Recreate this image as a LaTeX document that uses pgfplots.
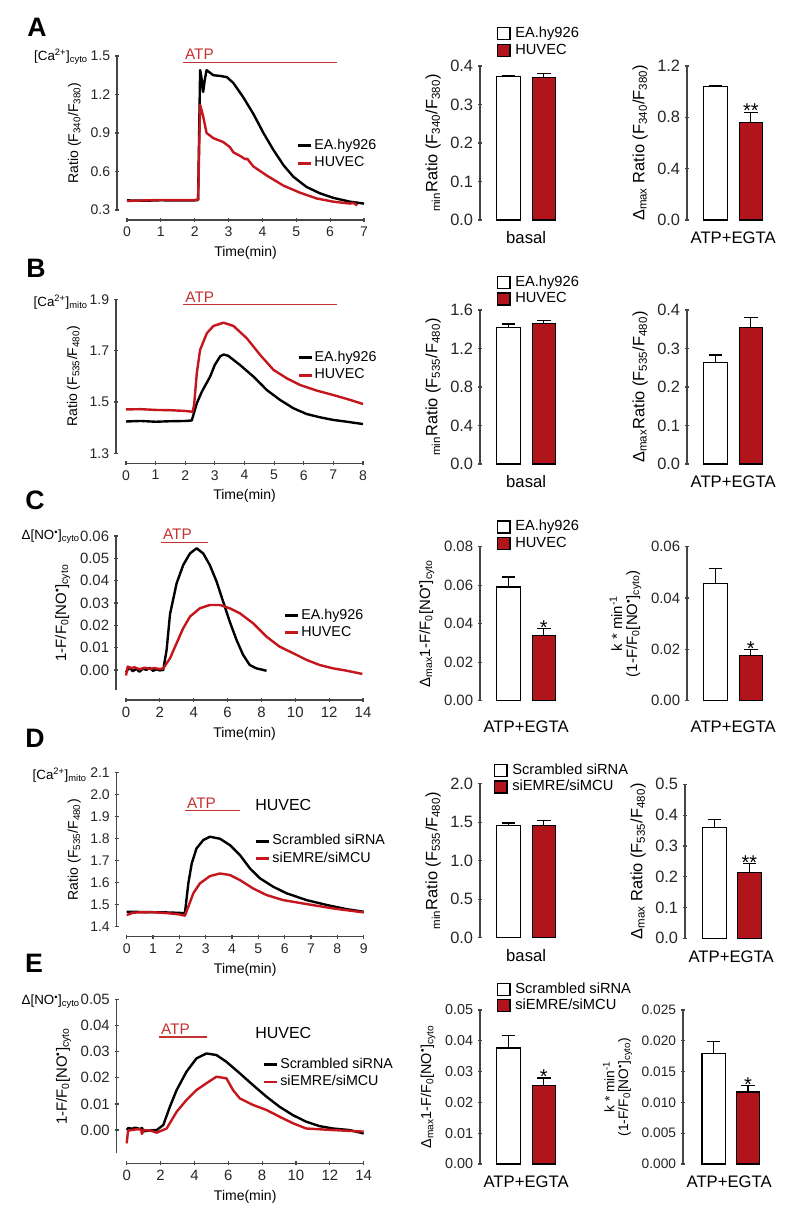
\documentclass[border=0pt]{standalone}
\usepackage{pgfplots}
\pgfplotsset{compat=1.18}
\usepackage{fontspec}
\setmainfont{Liberation Sans}
\definecolor{myred}{RGB}{178,20,28}
\definecolor{linered}{RGB}{196,22,28}
\definecolor{atpred}{RGB}{196,50,50}
\definecolor{axgray}{RGB}{70,70,70}
\pgfplotsset{
 noarrows/.style={axis line style={-, line width=0.9pt, draw=axgray},
   every outer x axis line/.append style={-}, every outer y axis line/.append style={-},
   every inner x axis line/.append style={-}, every inner y axis line/.append style={-}},
 tfs/.style={tick label style={font=\fontsize{#1}{#1}\selectfont}, ylabel style={font=\fontsize{#1}{#1}\selectfont}},
 base/.style={scale only axis, clip=false,
   every tick/.style={line width=0.9pt, draw=axgray},
   tick align=outside, major tick length=3pt,
   scaled y ticks=false, scaled x ticks=false,
   tick label style={font=\fontsize{10.5}{12}\selectfont, text=black!85, /pgf/number format/assume math mode=true},
   yticklabel style={/pgf/number format/fixed, /pgf/number format/fixed zerofill, /pgf/number format/precision=1},
   label style={font=\fontsize{10.5}{12}\selectfont},
 },
 trace/.style={base, width=177.75pt, height=115.5pt, axis lines=left, noarrows,
   axis x line shift=7.5pt, axis y line shift=7.5pt,
   xlabel={Time(min)},
   legend cell align=left,
   legend style={draw=none, fill=none, inner sep=0pt, outer sep=0pt, anchor=west, row sep=0pt,
     nodes={inner sep=1.2pt, text height=8pt, text depth=2.5pt, font=\fontsize{10.7}{12}\selectfont}},
   legend image code/.code={\draw[##1, line width=2.2pt] (0pt,0pt) -- (9.75pt,0pt);},
 },
 barax/.style={base, width=69.2pt, height=115.5pt, axis y line=left, axis x line*=bottom, noarrows,
   x axis line style={draw=none}, xtick=\empty, xmin=-0.8, xmax=1.8, ymin=0,
   xlabel style={at={(rel axis cs:0.5,0)}, anchor=center, yshift=-13.5pt, font=\fontsize{12.5}{14}\selectfont},
   legend cell align=left,
   legend style={draw=none, fill=none, inner sep=0pt, outer sep=0pt, anchor=west, row sep=0pt,
     /tikz/every odd column/.append style={column sep=2.5pt},
     nodes={inner sep=1.1pt, text height=8pt, text depth=2.2pt, font=\fontsize{11}{12}\selectfont}},
   legend image code/.code={\draw[##1, line width=0.9pt] (0pt,-4.5pt) rectangle (9.25pt,4.5pt);},
 },
 wbar/.style={ybar, bar width=17.6pt, bar shift=0pt, fill=white, draw=black, line width=0.9pt,
   error bars/.cd, y dir=plus, y explicit, error mark=-, error bar style={line width=0.9pt, draw=black},
   error mark options={rotate=90, line width=0.9pt, mark size=5pt, draw=black}},
 rbar/.style={ybar, bar width=17.6pt, bar shift=0pt, fill=myred, draw=black, line width=0.9pt,
   error bars/.cd, y dir=plus, y explicit, error mark=-, error bar style={line width=0.9pt, draw=black},
   error mark options={rotate=90, line width=0.9pt, mark size=5pt, draw=black}},
 blk/.style={black, line width=1.8pt, line join=round},
 rdl/.style={linered, line width=1.8pt, line join=round},
}
\tikzset{atp/.style={atpred, line width=0.8pt},
  atptext/.style={anchor=south west, text=atpred, inner sep=1.5pt, font=\fontsize{11.5}{13}\selectfont},
  star/.style={anchor=base, yshift=-4pt, inner sep=0pt, font=\fontsize{15}{16}\selectfont},
  letter/.style={font=\fontsize{20}{24}\selectfont\bfseries},
  side/.style={anchor=east, inner sep=0pt, font=\fontsize{10}{12}\selectfont}}
\begin{document}
\fontsize{10.5}{12.6}\selectfont
\begin{tikzpicture}[x=0.75pt,y=-0.75pt]
\path[use as bounding box] (0,0) rectangle (800,1217);
% ================= Row A =================
\begin{axis}[trace, at={(95.25pt,-157.5pt)}, anchor=south west,
  xmin=0, xmax=7, ymin=0.3, ymax=1.5, xtick={0,1,...,7}, ytick={0.3,0.6,0.9,1.2,1.5},
  ylabel={Ratio (F\textsubscript{340}/F\textsubscript{380})},
  legend style={at={(0.717,0.36)}}]
\addplot[blk] table {
0 0.375
0.5 0.372
1.0 0.376
1.5 0.374
2.0 0.375
2.1 0.378
2.16 1.39
2.2 1.33
2.25 1.22
2.3 1.32
2.35 1.39
2.45 1.37
2.55 1.35
2.75 1.345
2.95 1.335
3.14 1.29
3.43 1.18
3.73 1.05
4.03 0.90
4.32 0.77
4.62 0.65
4.91 0.56
5.3 0.48
5.7 0.43
6.09 0.395
6.58 0.365
7.0 0.35
};
\addplot[rdl] table {
0 0.37
0.5 0.375
1.0 0.378
1.5 0.377
2.0 0.378
2.1 0.38
2.16 1.12
2.25 1.03
2.35 0.90
2.55 0.86
2.84 0.83
3.04 0.79
3.14 0.75
3.35 0.72
3.5 0.695
3.55 0.70
3.73 0.64
4.12 0.57
4.62 0.49
5.11 0.435
5.6 0.39
6.09 0.365
6.58 0.35
6.7 0.355
6.8 0.335
};
\legend{EA.hy926, HUVEC}
\draw[atp] (axis cs:1.65,1.453) -- (axis cs:6.2,1.453);
\node[atptext] at (axis cs:1.65,1.453) {ATP};
\end{axis}
\begin{axis}[barax, tfs=12.3, at={(360pt,-165pt)}, anchor=south west, ymax=0.4, ytick={0,0.1,0.2,0.3,0.4},
  xlabel={basal}, ylabel={\textsubscript{min}Ratio (F\textsubscript{340}/F\textsubscript{380})},
  legend style={at={(0.184,1.156)}}]
\addplot[wbar] coordinates {(0,0.372) +- (0,0.004)};
\addplot[rbar] coordinates {(1,0.370) +- (0,0.011)};
\legend{EA.hy926, HUVEC}
\end{axis}
\begin{axis}[barax, tfs=12.3, at={(515.25pt,-165pt)}, anchor=south west, ymax=1.2, ytick={0,0.4,0.8,1.2},
  xlabel={ATP+EGTA}, ylabel={Δ\textsubscript{max} Ratio (F\textsubscript{340}/F\textsubscript{380})}]
\addplot[wbar] coordinates {(0,1.039) +- (0,0.006)};
\addplot[rbar] coordinates {(1,0.761) +- (0,0.078)};
\node[star] at (axis cs:1,0.839) {**};
\end{axis}
% ================= Row B =================
\begin{axis}[trace, at={(94.5pt,-339.98pt)}, anchor=south west,
  xmin=0, xmax=8, ymin=1.3, ymax=1.9, xtick={0,1,...,8}, ytick={1.3,1.5,1.7,1.9},
  ylabel={Ratio (F\textsubscript{535}/F\textsubscript{480})},
  legend style={at={(0.722,0.564)}}]
\addplot[blk] table {
0 1.424
0.5 1.426
1.0 1.423
1.5 1.425
2.0 1.426
2.22 1.428
2.39 1.495
2.56 1.54
2.84 1.599
3.0 1.645
3.18 1.678
3.3 1.685
3.45 1.68
3.85 1.644
4.3 1.599
4.75 1.547
5.2 1.508
5.66 1.475
6.1 1.453
6.56 1.44
7.0 1.43
7.46 1.423
8.0 1.414
};
\addplot[rdl] table {
0 1.471
0.5 1.472
1.0 1.469
1.5 1.468
2.0 1.465
2.25 1.462
2.3 1.49
2.39 1.612
2.5 1.703
2.73 1.768
2.95 1.796
3.29 1.809
3.63 1.796
4.08 1.748
4.53 1.683
4.98 1.625
5.43 1.592
5.88 1.566
6.45 1.544
7.0 1.527
7.57 1.508
8.0 1.492
};
\legend{EA.hy926, HUVEC}
\draw[atp] (axis cs:1.93,1.88) -- (axis cs:7.13,1.88);
\node[atptext] at (axis cs:1.93,1.88) {ATP};
\end{axis}
\begin{axis}[barax, tfs=12.3, at={(360pt,-348pt)}, anchor=south west, ymax=1.6, ytick={0,0.4,0.8,1.2,1.6},
  xlabel={basal}, ylabel={\textsubscript{min}Ratio (F\textsubscript{535}/F\textsubscript{480})},
  legend style={at={(0.184,1.125)}}]
\addplot[wbar] coordinates {(0,1.42) +- (0,0.035)};
\addplot[rbar] coordinates {(1,1.461) +- (0,0.028)};
\legend{EA.hy926, HUVEC}
\end{axis}
\begin{axis}[barax, tfs=12.3, at={(515.25pt,-348pt)}, anchor=south west, ymax=0.4, ytick={0,0.1,0.2,0.3,0.4},
  xlabel={ATP+EGTA}, ylabel={Δ\textsubscript{max}Ratio (F\textsubscript{535}/F\textsubscript{480})}]
\addplot[wbar] coordinates {(0,0.264) +- (0,0.019)};
\addplot[rbar] coordinates {(1,0.355) +- (0,0.026)};
\end{axis}
% ================= Row C =================
\begin{axis}[trace, tfs=11.2, at={(94.5pt,-517.5pt)}, anchor=south west,
  xmin=0, xmax=14, ymin=-0.009, ymax=0.06, xtick={0,2,...,14}, ytick={0,0.01,0.02,0.03,0.04,0.05,0.06},
  yticklabel style={/pgf/number format/precision=2},
  ylabel={1-F/F\textsubscript{0}[NO\textsuperscript{•}]\textsubscript{cyto}},
  legend style={at={(0.666,0.4286)}}]
\addplot[blk] table {
0 -0.001
0.2 0.0012
0.4 -0.0006
0.6 0.0005
0.8 -0.0008
1.0 0.0006
1.2 0.0
1.4 0.0009
1.6 -0.0004
1.8 0.0003
2.0 -0.0002
2.2 0.0
2.4 0.009
2.6 0.025
2.99 0.0388
3.38 0.047
3.78 0.0522
4.17 0.0545
4.56 0.0522
4.95 0.047
5.35 0.0396
5.74 0.0306
6.13 0.0216
6.53 0.0134
6.92 0.0067
7.31 0.0022
7.7 0.0007
8.0 0.0002
8.3 -0.0004
};
\addplot[rdl] table {
0 -0.0025
0.1 0.0015
0.3 0.0008
0.5 0.0012
0.8 0.0003
1.1 0.001
1.4 0.0005
1.7 0.0008
2.0 0.0004
2.2 0.0007
2.6 0.0052
2.99 0.012
3.38 0.0187
3.78 0.0239
4.36 0.0276
4.95 0.0291
5.54 0.0291
6.13 0.0276
6.72 0.0254
7.51 0.0209
8.3 0.0149
9.08 0.0104
9.87 0.0075
10.66 0.0045
11.44 0.0022
12.23 0.0007
13.0 -0.0003
13.96 -0.0018
};
\legend{EA.hy926, HUVEC}
\draw[atp] (axis cs:2.06,0.0573) -- (axis cs:4.84,0.0573);
\node[atptext] at (axis cs:2.06,0.0573) {ATP};
\end{axis}
\begin{axis}[barax, tfs=11.2, at={(360pt,-525.53pt)}, anchor=south west, ymax=0.08, ytick={0,0.02,0.04,0.06,0.08},
  yticklabel style={/pgf/number format/precision=2},
  xlabel={ATP+EGTA}, xlabel style={yshift=-6pt},
  ylabel={Δ\textsubscript{max}1-F/F\textsubscript{0}[NO\textsuperscript{•}]\textsubscript{cyto}},
  legend style={at={(0.184,1.075)}}]
\addplot[wbar] coordinates {(0,0.0591) +- (0,0.0052)};
\addplot[rbar] coordinates {(1,0.0339) +- (0,0.0035)};
\node[star] at (axis cs:1,0.0374) {*};
\legend{EA.hy926, HUVEC}
\end{axis}
\begin{axis}[barax, tfs=11.2, at={(515.25pt,-525.53pt)}, anchor=south west, ymax=0.06, ytick={0,0.02,0.04,0.06},
  yticklabel style={/pgf/number format/precision=2},
  xlabel={ATP+EGTA}, xlabel style={yshift=-6pt},
  ylabel={k * min\textsuperscript{-1}\\(1-F/F\textsubscript{0}[NO\textsuperscript{•}]\textsubscript{cyto})},
  ylabel style={align=center}]
\addplot[wbar] coordinates {(0,0.0458) +- (0,0.0057)};
\addplot[rbar] coordinates {(1,0.0176) +- (0,0.0022)};
\node[star] at (axis cs:1,0.0198) {*};
\end{axis}
% ================= Row D =================
\begin{axis}[trace, at={(95.03pt,-695.03pt)}, anchor=south west,
  xmin=0, xmax=9, ymin=1.4, ymax=2.1, xtick={0,1,...,9}, ytick={1.4,1.5,1.6,1.7,1.8,1.9,2.0,2.1},
  ylabel={Ratio (F\textsubscript{535}/F\textsubscript{480})},
  legend style={at={(0.541,0.499)}}]
\addplot[blk] table {
0 1.468
0.5 1.467
1.0 1.466
1.5 1.465
2.0 1.463
2.21 1.461
2.34 1.597
2.47 1.688
2.65 1.756
2.91 1.794
3.16 1.809
3.54 1.80
3.92 1.771
4.3 1.726
4.68 1.665
5.06 1.62
5.56 1.582
6.07 1.552
6.83 1.521
7.59 1.499
8.34 1.48
9.0 1.468
};
\addplot[rdl] table {
0 1.453
0.25 1.464
0.5 1.465
1.0 1.466
1.5 1.462
2.0 1.456
2.21 1.45
2.34 1.491
2.53 1.552
2.78 1.597
3.16 1.63
3.54 1.642
3.92 1.635
4.3 1.612
4.8 1.574
5.31 1.544
5.94 1.521
6.83 1.503
7.84 1.483
9.0 1.465
};
\legend{Scrambled siRNA, siEMRE/siMCU}
\draw[atp] (axis cs:2.21,1.927) -- (axis cs:4.3,1.927);
\node[atptext] at (axis cs:2.21,1.927) {ATP};
\end{axis}
\begin{axis}[barax, tfs=12.3, at={(360pt,-703.28pt)}, anchor=south west, ymax=2.0, ytick={0,0.5,1.0,1.5,2.0},
  xlabel={basal}, ylabel={\textsubscript{min}Ratio (F\textsubscript{535}/F\textsubscript{480})},
  legend style={at={(0.152,1.032)}}]
\addplot[wbar] coordinates {(0,1.46) +- (0,0.03)};
\addplot[rbar] coordinates {(1,1.46) +- (0,0.065)};
\legend{Scrambled siRNA, siEMRE/siMCU}
\end{axis}
\begin{axis}[barax, tfs=12.3, at={(513.75pt,-703.73pt)}, anchor=south west, xmin=-0.85, ymax=0.5, ytick={0,0.1,0.2,0.3,0.4,0.5},
  xlabel={ATP+EGTA}, ylabel={Δ\textsubscript{max} Ratio (F\textsubscript{535}/F\textsubscript{480})}]
\addplot[wbar] coordinates {(0,0.3587) +- (0,0.027)};
\addplot[rbar] coordinates {(1,0.214) +- (0,0.028)};
\node[star] at (axis cs:1,0.242) {**};
\end{axis}
% ================= Row E =================
\begin{axis}[trace, tfs=11.2, at={(95.03pt,-864.98pt)}, anchor=south west,
  xmin=0, xmax=14, ymin=-0.0089, ymax=0.05, xtick={0,2,...,14}, ytick={0,0.01,0.02,0.03,0.04,0.05},
  yticklabel style={/pgf/number format/precision=2},
  ylabel={1-F/F\textsubscript{0}[NO\textsuperscript{•}]\textsubscript{cyto}},
  legend style={at={(0.574,0.519)}}]
\addplot[blk] table {
0 0.0
0.1 0.0008
0.3 0.0005
0.5 0.0009
0.8 0.0004
0.9 0.0008
1.0 -0.0005
1.3 -0.0002
1.77 0.0
2.16 0.0019
2.55 0.0089
2.95 0.0153
3.53 0.0223
4.12 0.0274
4.71 0.0293
5.3 0.0287
5.89 0.0261
6.68 0.0217
7.46 0.0172
8.25 0.0128
9.03 0.0089
9.82 0.0057
10.6 0.0032
11.39 0.0015
12.17 0.0006
13.16 0.0
14.0 -0.0013
};
\addplot[rdl] table {
0 -0.0051
0.08 -0.0002
0.3 0.0
0.6 0.0003
0.85 0.0002
0.9 -0.0015
1.0 0.0
1.4 -0.0002
1.77 -0.001
2.36 0.0006
2.95 0.007
3.53 0.0115
4.12 0.0153
4.71 0.0179
5.3 0.0204
5.89 0.0198
6.28 0.0153
6.68 0.0121
7.46 0.0096
8.25 0.0077
9.03 0.0051
9.82 0.0026
10.6 0.0006
12.17 0.0
14.0 -0.0006
};
\legend{Scrambled siRNA, siEMRE/siMCU}
\draw[atp] (axis cs:1.9,0.0356) -- (axis cs:4.73,0.0356);
\node[atptext] at (axis cs:1.9,0.0356) {ATP};
\end{axis}
\begin{axis}[barax, tfs=10.8, at={(360pt,-873pt)}, anchor=south west, ymax=0.05, ytick={0,0.01,0.02,0.03,0.04,0.05},
  yticklabel style={/pgf/number format/precision=2},
  xlabel={ATP+EGTA},
  ylabel={Δ\textsubscript{max}1-F/F\textsubscript{0}[NO\textsuperscript{•}]\textsubscript{cyto}},
  legend style={at={(0.184,1.081)}}]
\addplot[wbar] coordinates {(0,0.0377) +- (0,0.004)};
\addplot[rbar] coordinates {(1,0.0254) +- (0,0.0025)};
\node[star] at (axis cs:1,0.0279) {*};
\legend{Scrambled siRNA, siEMRE/siMCU}
\end{axis}
\begin{axis}[barax, tfs=10.3, at={(512.25pt,-873pt)}, anchor=south west, xmin=-0.9, ymax=0.025, ytick={0,0.005,0.01,0.015,0.02,0.025},
  yticklabel style={/pgf/number format/precision=3},
  xlabel={ATP+EGTA},
  ylabel={k * min\textsuperscript{-1}\\(1-F/F\textsubscript{0}[NO\textsuperscript{•}]\textsubscript{cyto})},
  ylabel style={align=center}]
\addplot[wbar] coordinates {(0,0.0179) +- (0,0.002)};
\addplot[rbar] coordinates {(1,0.0117) +- (0,0.001)};
\node[star] at (axis cs:1,0.0127) {*};
\end{axis}
% ================= annotations =================
\node[letter] at (37,27) {A};
\node[letter] at (36,268) {B};
\node[letter] at (35,500) {C};
\node[letter] at (35,738) {D};
\node[letter] at (34,963) {E};
\node[side] at (88,57) {[Ca\textsuperscript{2+}]\textsubscript{cyto}};
\node[side] at (88,302) {[Ca\textsuperscript{2+}]\textsubscript{mito}};
\node[side] at (80,537) {Δ[NO\textsuperscript{•}]\textsubscript{cyto}};
\node[side] at (87,775) {[Ca\textsuperscript{2+}]\textsubscript{mito}};
\node[side] at (80,1002) {Δ[NO\textsuperscript{•}]\textsubscript{cyto}};
\node[anchor=west, inner sep=0pt, font=\fontsize{12}{14}\selectfont] at (255,805) {HUVEC};
\node[anchor=west, inner sep=0pt, font=\fontsize{12}{14}\selectfont] at (255,1033) {HUVEC};
\end{tikzpicture}
\end{document}
